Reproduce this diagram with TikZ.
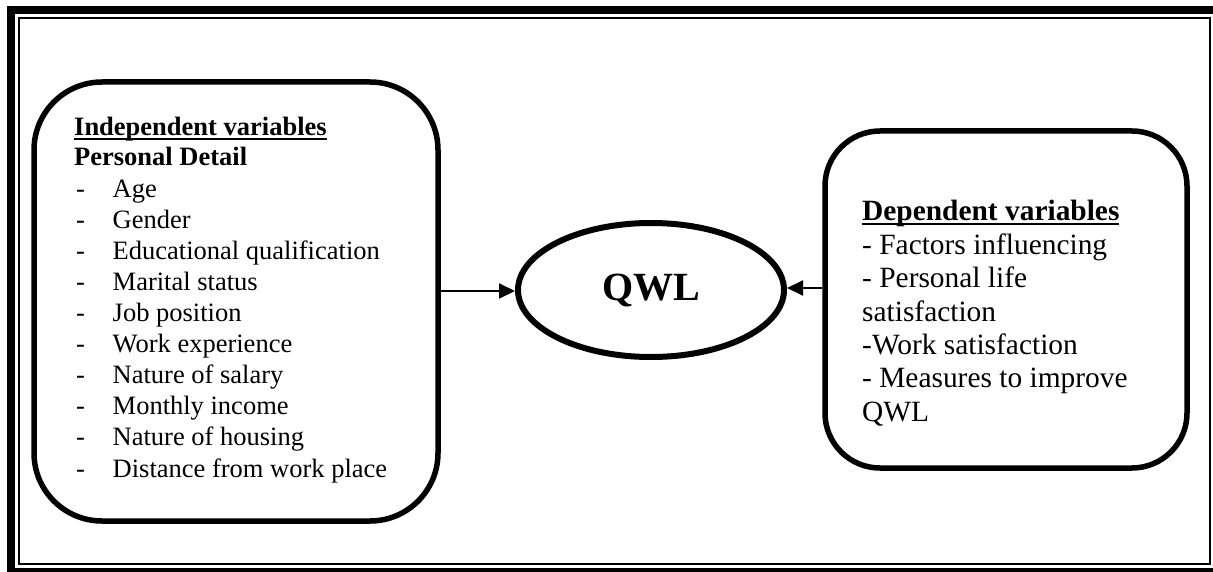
\documentclass[tikz,border=0pt]{standalone}
\usepackage{fontspec}
\setmainfont{Liberation Serif}
\usetikzlibrary{arrows.meta,shapes.geometric}
\newcommand\myul[1]{\setbox0\hbox{#1}\rlap{\raisebox{-4pt}{\rule{\wd0}{1.8pt}}}\box0}
\begin{document}
\begin{tikzpicture}[x=1pt,y=-1pt,
  leftbox/.style={draw=black, line width=5.5pt, rounded corners=68pt, inner sep=0pt, minimum width=404pt, minimum height=439pt},
  rightbox/.style={draw=black, line width=5.5pt, rounded corners=55pt, inner sep=0pt, minimum width=362pt, minimum height=337pt},
  oval/.style={draw=black, ellipse, line width=6pt, inner sep=0pt, minimum width=266pt, minimum height=134pt, font=\fontsize{40}{44}\selectfont\bfseries},
  ltxt/.style={anchor=base west, inner sep=0pt, font=\fontsize{26.5}{31}\selectfont},
  rtxt/.style={anchor=base west, inner sep=0pt, font=\fontsize{29.4}{34}\selectfont},
  conn/.style={line width=2pt, -{Triangle[length=16pt,width=15pt]}}]
\useasboundingbox (0,0) rectangle (1213,572);
\clip (0,0) rectangle (1213,572);
\fill[white] (0,0) rectangle (1213,572);
% frame
\draw[line width=8pt] (11,10) rectangle (1219,572);
\draw[line width=2pt] (19,18) rectangle (1210,564);
% boxes
\node[leftbox] (L) at (236,301.5) {};
\node[rightbox] (R) at (1006,299.5) {};
\node[oval] (Q) at (651,290) {QWL};
% left text
\node[ltxt] (lh1) at (74,136) {\bfseries\myul{Independent variables}};
\node[ltxt] (lh2) at (74,166) {\bfseries Personal Detail};
\foreach \t [count=\i] in {Age,Gender,Educational qualification,Marital status,Job position,Work experience,Nature of salary,Monthly income,Nature of housing,Distance from work place}{
  \node[ltxt] (d\i) at (76,{166+31.1*\i}) {-};
  \node[ltxt] (it\i) at (112.5,{166+31.1*\i}) {\t};
}
% right text
\node[rtxt] (r1) at (862,221) {\bfseries\myul{Dependent variables}};
\node[rtxt] (r2) at (862,254.3) {- Factors influencing};
\node[rtxt] (r3) at (862,287.7) {- Personal life};
\node[rtxt] (r4) at (862,321) {satisfaction};
\node[rtxt] (r5) at (862,354.3) {-Work satisfaction};
\node[rtxt] (r6) at (862,387.7) {- Measures to improve};
\node[rtxt] (r7) at (862,421) {QWL};
% connectors
\draw[conn] (L.east |- 0,291) -- (Q.west |- 0,291);
\draw[conn] (R.west |- 0,288) -- (Q.east |- 0,288);
\end{tikzpicture}
\end{document}
